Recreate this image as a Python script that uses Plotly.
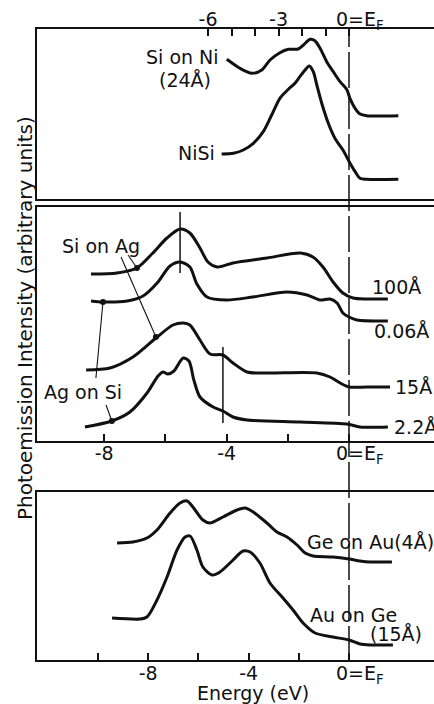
import plotly.graph_objects as go

# ---------------- data (energy in eV, intensity in arbitrary units) ----------------
# top panel
sini_e = [-5.20, -4.64, -4.14, -3.71, -3.36, -2.94, -2.58, -2.16, -1.94, -1.66, -1.45,
          -1.23, -0.95, -0.67, -0.38, -0.10, 0.04, 0.26, 0.47, 0.75, 2.10]
sini_i = [13.97, 13.07, 12.57, 12.9, 13.9, 14.63, 14.97, 15.0, 15.4, 15.97, 15.83,
          15.07, 13.73, 12.73, 11.73, 10.97, 10.07, 9.07, 8.5, 8.33, 8.33]
nisi_e = [-5.42, -4.92, -4.50, -4.07, -3.65, -3.29, -2.94, -2.58, -2.30, -2.09, -1.87,
          -1.69, -1.52, -1.37, -1.16, -0.88, -0.60, -0.24, 0.01, 0.26, 0.47, 0.75, 2.10]
nisi_i = [4.5, 4.57, 4.9, 5.57, 6.73, 8.4, 10.07, 10.97, 11.57, 12.23, 12.9,
          13.3, 12.73, 11.4, 9.57, 7.57, 6.07, 4.83, 3.73, 2.73, 2.07, 1.97, 1.97]

# middle panel
ag100_e = [-8.43, -7.58, -6.93, -6.41, -5.95, -5.52, -5.20, -4.87, -4.61, -4.31, -3.79,
           -2.68, -1.60, -1.18, -0.85, -0.52, -0.20, 0.13, 0.59, 1.27]
ag100_i = [16.7, 16.8, 17.3, 18.8, 20.3, 21.2, 20.8, 19.3, 17.9, 17.4, 17.8,
           18.3, 18.8, 18.4, 17.4, 15.9, 14.8, 14.3, 14.2, 14.2]
ag006_e = [-8.43, -8.04, -7.25, -6.73, -6.27, -5.85, -5.52, -5.20, -4.97, -4.64, -3.99,
           -3.14, -2.03, -1.37, -0.95, -0.62, -0.39, -0.20, 0.0, 0.26, 1.27]
ag006_i = [14.0, 13.9, 14.0, 14.5, 15.8, 17.5, 17.9, 17.4, 15.7, 14.4, 14.1,
           14.4, 14.9, 14.6, 14.1, 14.2, 13.8, 12.8, 12.4, 12.1, 12.0]
ag15_e = [-8.59, -7.81, -7.06, -6.27, -5.75, -5.42, -5.20, -4.87, -4.54, -4.12, -3.79,
          -3.33, -2.68, -1.05, -0.62, -0.29, 0.0, 0.59, 1.34]
ag15_i = [7.1, 7.3, 8.4, 10.4, 11.6, 11.8, 11.6, 10.1, 8.7, 8.6, 7.8,
          6.9, 6.8, 6.8, 6.4, 5.8, 5.4, 5.4, 5.4]
ag22_e = [-8.63, -7.75, -7.16, -6.60, -6.24, -6.08, -5.92, -5.72, -5.42, -5.23, -5.07,
          -4.87, -4.44, -4.12, -3.79, -3.33, -1.60, -0.07, 0.36, 1.27]
ag22_i = [1.4, 2.0, 2.9, 4.8, 6.5, 6.9, 6.7, 7.0, 8.3, 8.0, 6.1,
          4.4, 3.4, 3.0, 2.4, 2.1, 1.9, 1.7, 1.4, 1.4]
mid_labels = ["100Å", "0.06Å", "15Å", "2.2Å"]

# bottom panel
geau_e = [-9.24, -8.61, -8.05, -7.65, -7.13, -6.73, -6.45, -6.22, -5.82, -5.54, -5.02,
          -4.46, -4.14, -3.82, -3.27, -2.87, -2.47, -2.07, -1.75, -1.43, -0.64, 0.0,
          0.44, 0.84, 1.71]
geau_i = [11.7, 11.8, 12.2, 13.0, 14.7, 15.7, 15.9, 15.3, 14.0, 13.7, 14.3,
          15.0, 15.2, 14.8, 13.7, 12.8, 12.3, 11.5, 10.7, 10.4, 10.3, 10.1,
          9.9, 9.8, 9.8]
auge_e = [-9.44, -8.33, -8.05, -7.65, -7.25, -6.85, -6.53, -6.33, -6.06, -5.82, -5.46,
          -5.14, -4.62, -4.22, -3.94, -3.55, -3.15, -2.63, -2.23, -1.83, -1.35, -0.64,
          0.0, 0.44, 0.84, 1.75]
auge_i = [4.2, 4.1, 4.3, 6.0, 8.3, 11.0, 12.3, 12.4, 11.0, 9.3, 8.5,
          8.8, 10.0, 10.9, 10.8, 9.7, 7.7, 6.2, 5.0, 3.7, 2.7, 2.3,
          2.0, 1.6, 1.5, 1.5]

# pointer dots in middle panel (energy, intensity)
dot_e = [-6.93, -6.31, -8.04, -7.75]
dot_i = [17.3, 10.4, 13.9, 2.0]

# tick values / labels
top_tickvals = [-6, -3]
top_ticktext = ["-6", "-3"]
top_minor = [-6, -5, -4, -3, -2, -1, 0]
mid_tickvals = [-8, -4]
mid_ticktext = ["-8", "-4"]
mid_minor = [-8, -6, -4, -2, 0]
bot_tickvals = [-8, -4]
bot_ticktext = ["-8", "-4"]
bot_minor = [-10, -8, -6, -4, -2, 0]

# ---------------- figure ----------------
INK = "#111111"
FONT = "DejaVu Sans"
W, H = 434, 704


def py(p):
    return 1 - p / H


fig = go.Figure()


def curve(x, y, xa, ya):
    fig.add_trace(go.Scatter(x=x, y=y, xaxis=xa, yaxis=ya, mode="lines",
                             line=dict(color=INK, width=3, shape="spline", smoothing=0.8),
                             hoverinfo="skip"))


curve(sini_e, sini_i, "x", "y")
curve(nisi_e, nisi_i, "x", "y")
curve(ag100_e, ag100_i, "x2", "y2")
curve(ag006_e, ag006_i, "x2", "y2")
curve(ag15_e, ag15_i, "x2", "y2")
curve(ag22_e, ag22_i, "x2", "y2")
curve(geau_e, geau_i, "x3", "y3")
curve(auge_e, auge_i, "x3", "y3")

# pointer lines from labels to dots
pointers = [((-7.22, 18.6), 0), ((-7.45, 18.4), 1), ((-8.27, 6.3), 2), ((-7.94, 3.6), 3)]
for (sx, sy), k in pointers:
    fig.add_trace(go.Scatter(x=[sx, dot_e[k]], y=[sy, dot_i[k]], xaxis="x2", yaxis="y2",
                             mode="lines", line=dict(color=INK, width=1.1),
                             hoverinfo="skip"))
fig.add_trace(go.Scatter(x=dot_e, y=dot_i, xaxis="x2", yaxis="y2", mode="markers",
                         marker=dict(color=INK, size=6), hoverinfo="skip"))

TICKFONT = dict(family=FONT, size=19, color=INK)
axis_common = dict(showline=True, linecolor=INK, linewidth=1.5, showgrid=False,
                   zeroline=False, ticks="inside", ticklen=7, tickwidth=1.5,
                   tickcolor=INK, tickfont=TICKFONT)
yaxis_common = dict(showline=True, linecolor=INK, linewidth=1.5, showgrid=False,
                    zeroline=False, showticklabels=False, ticks="", mirror=False)


def minor(vals):
    return dict(tickmode="array", tickvals=vals, ticks="inside", ticklen=7,
                tickwidth=1.5, tickcolor=INK, showgrid=False)


L = 37 / W
fig.update_layout(
    width=W, height=H, margin=dict(l=0, r=0, t=0, b=0),
    paper_bgcolor="white", plot_bgcolor="white", showlegend=False,
    xaxis=dict(domain=[L, 1], range=[-13.277, 3.617], anchor="y", side="top", mirror=True,
               tickmode="array", tickvals=top_tickvals, ticktext=top_ticktext,
               ticklabelstandoff=-6, minor=minor(top_minor), **axis_common),
    yaxis=dict(domain=[py(199), py(29)], range=[0, 17.0], anchor="x", **yaxis_common),
    xaxis2=dict(domain=[L, 1], range=[-10.196, 2.778], anchor="y2", mirror=True,
                tickmode="array", tickvals=mid_tickvals, ticktext=mid_ticktext,
                ticklabelstandoff=-6, minor=minor(mid_minor), **axis_common),
    yaxis2=dict(domain=[py(441), py(207)], range=[0, 23.4], anchor="x2", **yaxis_common),
    xaxis3=dict(domain=[L, 1], range=[-12.430, 3.386], anchor="y3", mirror=True,
                tickmode="array", tickvals=bot_tickvals, ticktext=bot_ticktext,
                ticklabelstandoff=-5, minor=minor(bot_minor), **axis_common),
    yaxis3=dict(domain=[py(660), py(492)], range=[0, 16.8], anchor="x3", **yaxis_common),
)

# Fermi level dashed line through all panels
fig.add_shape(type="line", xref="x2", yref="paper", x0=0, x1=0, y0=py(662), y1=py(29),
              line=dict(color=INK, width=1.5, dash="36px,5px"))
# vertical markers in middle panel
fig.add_shape(type="line", xref="x2", yref="y2", x0=-5.52, x1=-5.52, y0=16.8, y1=22.9,
              line=dict(color=INK, width=1.5))
fig.add_shape(type="line", xref="x2", yref="y2", x0=-4.12, x1=-4.12, y0=1.8, y1=9.4,
              line=dict(color=INK, width=1.5))


def ann(text, x, y, xref, yref, xanchor="center", size=19, **kw):
    fig.add_annotation(text=text, x=x, y=y, xref=xref, yref=yref, xanchor=xanchor,
                       yanchor="middle", showarrow=False,
                       font=dict(family=FONT, size=size, color=INK), **kw)


# top panel labels
ann("Si on Ni", -5.45, 14.2, "x", "y", xanchor="right")
ann("(24Å)", -6.98, 11.9, "x", "y")
ann("NiSi", -5.62, 4.6, "x", "y", xanchor="right")
ann("0=E<sub>F</sub>", 0, py(21), "x", "paper", xanchor="left", xshift=-15)

# middle panel labels
ann("Si on Ag", -8.10, 19.5, "x2", "y2")
ann("Ag on Si", -8.69, 4.9, "x2", "y2")
ann(mid_labels[0], 0.69, 15.4, "x2", "y2", xanchor="left")
ann(mid_labels[1], 0.75, 11.0, "x2", "y2", xanchor="left")
ann(mid_labels[2], 1.44, 5.4, "x2", "y2", xanchor="left")
ann(mid_labels[3], 1.41, 1.4, "x2", "y2", xanchor="left")
ann("0=E<sub>F</sub>", 0, py(454), "x2", "paper", xanchor="left", xshift=-15)

# bottom panel labels
ann("Ge on Au(4Å)", -1.75, 11.8, "x3", "y3", xanchor="left")
ann("Au on Ge", -1.63, 4.5, "x3", "y3", xanchor="left")
ann("(15Å)", 0.76, 2.6, "x3", "y3", xanchor="left")
ann("0=E<sub>F</sub>", 0, py(674), "x3", "paper", xanchor="left", xshift=-15)
ann("Energy (eV)", 253 / W, py(693), "paper", "paper", size=19)

# y-axis title
ann("Photoemission Intensity (arbitrary units)", 25 / W, py(318), "paper", "paper",
    size=20, textangle=-90)

fig.write_html("out.html", config={"displayModeBar": False},
               post_script="document.body.style.margin='0px';document.body.style.padding='0px';")
